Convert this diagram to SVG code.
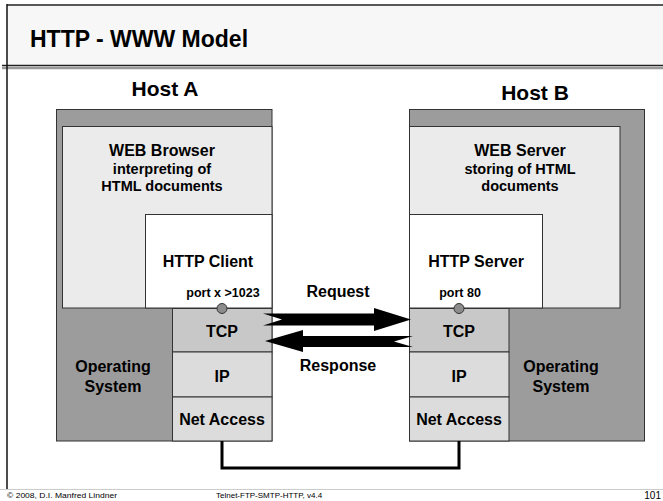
<svg xmlns="http://www.w3.org/2000/svg" width="663" height="501" viewBox="0 0 663 501">
<style>
text{font-family:"Liberation Sans",Arial,sans-serif;font-weight:bold;fill:#000;text-anchor:middle}
.dark{fill:#9c9c9c;stroke:#333;stroke-width:1}
.light{fill:#ebebeb;stroke:#333;stroke-width:1}
.white{fill:#fff;stroke:#333;stroke-width:1}
.tcp{fill:#c8c8c8;stroke:#333;stroke-width:1}
.layer{fill:#dcdcdc;stroke:#333;stroke-width:1}
.t14{font-size:16px}
.t12{font-size:14.5px}
.t10{font-size:12.5px}
.host{font-size:21px}
.port{fill:#8c8c8c;stroke:#333;stroke-width:1}
.foot{font-size:8px;font-weight:normal;text-anchor:start}
</style>
<rect x="0" y="0" width="663" height="501" fill="#fff"/>
<g id="frame">
<rect x="7" y="5" width="660" height="61" fill="#f7f7f7"/>
<line x1="7" y1="5" x2="663" y2="5" stroke="#222" stroke-width="1.5"/>
<line x1="2" y1="65.5" x2="663" y2="65.5" stroke="#222" stroke-width="1.5"/>
<line x1="2" y1="68" x2="663" y2="68" stroke="#999" stroke-width="2.5"/>
<line x1="7" y1="4" x2="7" y2="490" stroke="#111" stroke-width="1.5"/>
<text x="30" y="47" style="font-size:23px;text-anchor:start">HTTP - WWW Model</text>
<line x1="0" y1="489.5" x2="663" y2="489.5" stroke="#ccc" stroke-width="1"/>
<text class="foot" x="7" y="498" textLength="110" lengthAdjust="spacingAndGlyphs">© 2008, D.I. Manfred Lindner</text>
<text class="foot" x="216" y="498">Telnet-FTP-SMTP-HTTP, v4.4</text>
<text x="661" y="499" style="font-size:10px;font-weight:normal;text-anchor:end">101</text>
</g>
<g id="hostA">
<text class="host" x="165" y="96">Host A</text>
<rect class="dark" x="56.5" y="109.5" width="215.5" height="331.5"/>
<rect class="light" x="62.5" y="126.5" width="209.5" height="181.5"/>
<text class="t14" x="162" y="156">WEB Browser</text>
<text class="t12" x="162" y="174">interpreting of</text>
<text class="t12" x="162" y="191">HTML documents</text>
</g>
<g id="httpClient">
<rect class="white" x="145.5" y="214.5" width="126.5" height="93.5"/>
<text class="t14" x="208" y="267">HTTP Client</text>
<text class="t10" x="223" y="297">port x &gt;1023</text>
</g>
<g id="osA">
<text class="t14" x="113" y="372">Operating</text>
<text class="t14" x="113" y="392">System</text>
</g>
<g id="tcpA">
<rect class="tcp" x="172.5" y="308.5" width="99.5" height="43.5"/>
<text class="t14" x="222" y="337">TCP</text>
</g>
<g id="ipA">
<rect class="layer" x="172.5" y="352" width="99.5" height="45"/>
<text class="t14" x="222" y="382">IP</text>
</g>
<g id="netA">
<rect class="layer" x="172.5" y="397" width="99.5" height="44"/>
<text class="t14" x="222" y="425">Net Access</text>
</g>
<g id="hostB">
<text class="host" x="535" y="100">Host B</text>
<rect class="dark" x="409.5" y="109.5" width="235" height="331.5"/>
<rect class="light" x="409.5" y="126.5" width="210.5" height="181.5"/>
<text class="t14" x="520" y="156">WEB Server</text>
<text class="t12" x="520" y="174">storing of HTML</text>
<text class="t12" x="520" y="191">documents</text>
</g>
<g id="httpServer">
<rect class="white" x="409.5" y="214.5" width="133" height="93.5"/>
<text class="t14" x="476" y="267">HTTP Server</text>
<text class="t10" x="460" y="297">port 80</text>
</g>
<g id="osB">
<text class="t14" x="561" y="372">Operating</text>
<text class="t14" x="561" y="392">System</text>
</g>
<g id="tcpB">
<rect class="tcp" x="409.5" y="308.5" width="99.5" height="43.5"/>
<text class="t14" x="459" y="337">TCP</text>
</g>
<g id="ipB">
<rect class="layer" x="409.5" y="352" width="99.5" height="45"/>
<text class="t14" x="459" y="382">IP</text>
</g>
<g id="netB">
<rect class="layer" x="409.5" y="397" width="99.5" height="44"/>
<text class="t14" x="459" y="425">Net Access</text>
</g>
<g id="connectors">
<circle class="port" cx="222" cy="308.5" r="5"/>
<circle class="port" cx="459" cy="308.5" r="5"/>
<polyline points="222,441 222,468 459,468 459,441" fill="none" stroke="#000" stroke-width="3"/>
<polygon points="263,313.5 374,313.5 374,308 411,319.5 374,331 374,325.5 263,325.5 282,319.5" fill="#000"/>
<polygon points="265,341 303,330 303,336 413,336 394,341.5 413,347 303,347 303,352" fill="#000"/>
<text class="t14" x="338" y="297">Request</text>
<text class="t14" x="338" y="371">Response</text>
</g>
</svg>
